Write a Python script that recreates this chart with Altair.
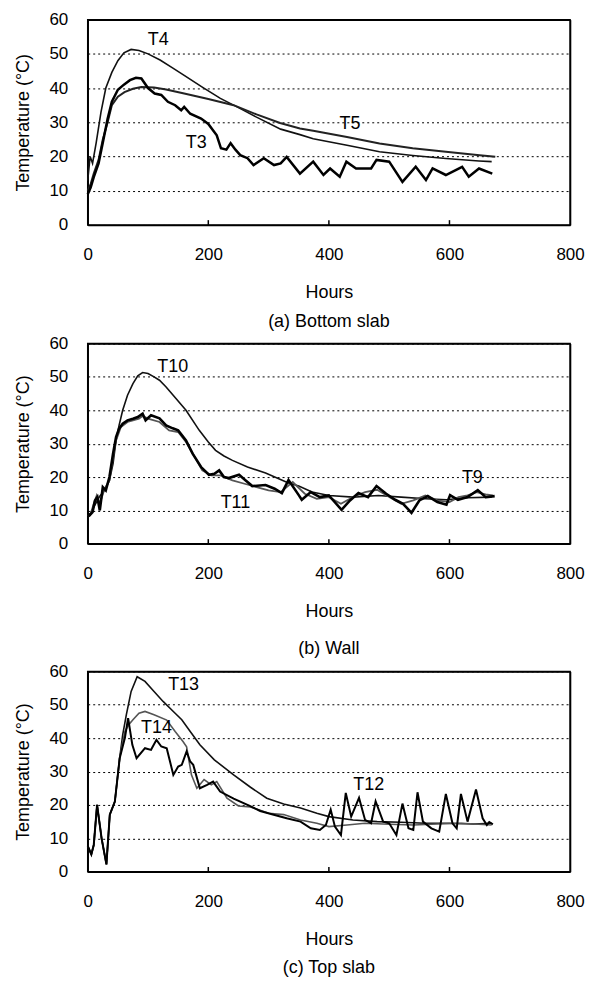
import altair as alt
import pandas as pd

FONT = "Liberation Sans"

x_ticks = [0, 200, 400, 600, 800]
y_ticks = [0, 10, 20, 30, 40, 50, 60]
x_inner_ticks = [200, 400, 600]

# ---------------- (a) Bottom slab ----------------
a_T4_h = [0, 4, 8, 14, 22, 30, 40, 50, 60, 72, 85, 100, 120, 140, 160, 190, 220, 250, 280, 320, 352, 374, 430, 484, 539, 594, 649, 670]
a_T4_t = [13, 20, 18, 24, 33, 40, 44.6, 48, 50.3, 51.3, 51, 50, 48.2, 46, 43.7, 40.3, 37, 34.3, 31.5, 28, 26.4, 25.2, 23.3, 21.4, 20.3, 19.4, 18.7, 18.5]

a_T5_h = [0, 5, 10, 18, 25, 33, 40, 50, 61, 75, 89, 110, 130, 160, 200, 242, 280, 319, 352, 374, 430, 484, 539, 594, 650, 676]
a_T5_t = [10, 12, 15, 19, 25, 30, 35, 37.5, 38.8, 39.8, 40.3, 40.2, 39.6, 38.4, 36.8, 35, 32.3, 29.8, 28.2, 27.5, 25.7, 23.8, 22.4, 21.4, 20.4, 19.9]

a_T3_h = [0, 5, 10, 18, 25, 33, 40, 50, 60, 70, 80, 89, 100, 111, 122, 133, 145, 155, 160, 170, 188, 200, 214, 221, 230, 237, 245, 253, 265, 275, 292, 309, 320,
          330, 352, 374, 391, 402, 418, 429, 445, 470, 479, 500, 522, 544, 561, 572, 594, 621, 632, 649, 671]
a_T3_t = [9, 11, 14, 18, 24, 31, 36, 39.5, 41, 42.3, 43, 42.8, 40, 38.4, 38, 36, 35, 33.5, 34.5, 32.5, 31.1, 29.5, 26.2, 22.4, 22, 23.9, 22, 20.4, 19.5, 17.5, 19.5, 17.5, 18,
          19.9, 15.0, 18.5, 14.6, 16.5, 14.1, 18.5, 16.5, 16.5, 19.0, 18.5, 12.6, 17.0, 13.1, 16.5, 14.6, 17.0, 14.1, 16.5, 15.0]

a_lab_text = ["T4", "T3", "T5"]
a_lab_h = [117, 180, 435]
a_lab_t = [54, 24, 29.6]

# ---------------- (b) Wall ----------------
b_T10_h = [0, 3, 10, 20, 28, 36, 42, 47, 52, 58, 66, 75, 83, 91, 100, 110, 119, 130, 146, 163, 185, 200, 212, 226, 240, 265, 295, 333, 350, 372, 400, 440, 482, 520, 560, 595, 630, 670]
b_T10_t = [9, 8.7, 11, 14.3, 16, 19, 24, 31, 35.5, 40, 44.5, 48, 50.3, 51.3, 51, 50, 49, 47, 43.6, 40, 34, 30.5, 28, 26.3, 25, 23, 21.2, 18.2, 17.3, 15.5, 14.5, 14, 14.5, 14, 13.5, 13.2, 13.8, 14]

b_T11_h = [0, 3, 8, 12, 16, 20, 25, 30, 36, 42, 47, 52, 58, 66, 75, 83, 91, 96, 105, 119, 130, 141, 150, 163, 174, 188, 201, 210, 218, 226, 234, 251, 262, 273, 295, 310, 322, 333,
           350, 355, 370, 385, 400, 421, 435, 449, 465, 479, 495, 510, 523, 537, 550, 564, 580, 595, 601, 614, 630, 647, 660, 675]
b_T11_t = [9, 8.5, 9.5, 13, 14, 10, 17, 16, 20, 27, 32, 34.5, 36, 37, 37.5, 38, 39, 37, 38.5, 37.6, 35.5, 34.6, 34, 31, 27, 23, 20.7, 21, 22, 20, 19.7, 20.7, 19, 17.3, 17.6, 16.5, 15.2, 19.1,
           14.6, 13.2, 15.5, 14, 14.5, 10.2, 13, 15.2, 14, 17.3, 15, 13.2, 12, 9.3, 13, 14.3, 12.5, 11.7, 14.6, 13.2, 14, 16.1, 14, 14.3]

b_T9_h = [0, 5, 10, 15, 20, 28, 36, 42, 47, 55, 66, 75, 85, 91, 100, 119, 135, 150, 163, 176, 190, 205, 220, 240, 260, 280, 300, 320, 340, 360, 380, 400, 420, 440, 460, 480, 500, 520, 540, 560, 580, 600, 615, 630, 645, 660, 672]
b_T9_t = [8.5, 9, 12, 14.5, 12, 16.5, 19, 26, 31, 35, 36.5, 37, 37.5, 38.3, 37.5, 36.5, 34, 33.5, 30.5, 26.5, 22, 20.5, 20.5, 19, 18, 17, 16, 15.5, 18.5, 15, 13.5, 14, 12, 14, 15.5, 16.2, 14, 12, 13, 14.5, 13, 12.5, 14, 14.5, 15.5, 14.8, 14.5]

b_lab_text = ["T10", "T11", "T9"]
b_lab_h = [141, 245, 638]
b_lab_t = [53, 12.2, 19.7]

# ---------------- (c) Top slab ----------------
c_T13_h = [0, 6, 10, 15.5, 20, 23, 31, 36.6, 45, 53, 58, 64, 72, 82, 95, 110, 125, 142, 156, 170, 186, 210, 242, 270, 297, 325, 353, 380, 400, 440, 480, 520, 560, 600, 640, 670]
c_T13_t = [7.7, 5.2, 8, 20, 14, 10, 2.2, 17.1, 21, 34, 41, 47, 54, 58.4, 57, 54, 51, 48, 45.5, 42, 38, 33.5, 29, 25.3, 22, 20.3, 19.1, 17.5, 16.5, 15.5, 15, 14.8, 14.5, 14.5, 14.3, 14.5]

c_T14_h = [0, 6, 10, 15.5, 20, 23, 31, 36.6, 45, 53, 61.6, 68, 75, 85, 95, 110, 131, 145, 158, 164, 172, 181, 193, 205, 214, 231, 250, 270, 300, 325, 353, 380, 400, 430, 460, 500, 540, 580, 620, 670]
c_T14_t = [7.7, 5.2, 8, 20, 14, 10, 2.2, 17.1, 21, 34, 42, 44, 45.5, 47.5, 48, 47, 45.4, 42, 39, 37.4, 29, 25, 27.6, 26, 27, 22, 19.7, 19.4, 17.5, 17.1, 15.5, 14.5, 13.5, 14, 14.5, 14.2, 14, 14.3, 14.5, 14]

c_T12_h = [0, 6, 10, 15.5, 20, 23, 31, 36.6, 45, 53, 61.6, 67, 74, 81, 95, 105, 114, 122, 131, 142, 150, 156, 164, 170, 175, 186, 198, 208, 219.6, 242, 265, 286, 310, 330, 353, 370, 385,
           395, 403, 410, 420, 428, 437, 450, 460, 470, 477.5, 490, 500, 512, 522, 532, 540, 547, 556, 570, 583, 594, 605, 612, 619, 630, 644, 655, 662, 666, 672]
c_T12_t = [7.7, 5.2, 8, 20, 14, 10, 2.2, 17.1, 21, 34, 40, 46, 38, 34, 37, 36.5, 39.5, 37.5, 37, 29, 31.5, 32, 36, 33, 32, 25, 26, 27, 24, 21.9, 20, 18.2, 17, 16, 15, 13, 12.5,
           14, 18.6, 13.5, 11, 23.6, 16.5, 22.1, 15.5, 14.5, 21.1, 15, 14.5, 11, 20.4, 13, 12.5, 23.8, 15, 13, 12, 23.3, 14.5, 13, 23.3, 15, 24.6, 16, 14, 14.9, 14.2]

c_lab_text = ["T13", "T14", "T12"]
c_lab_h = [159, 114, 466]
c_lab_t = [56, 43, 26]

PANEL_W = 484
X_SCALE = alt.Scale(domain=[0, 800], nice=False)
Y_SCALE = alt.Scale(domain=[0, 60], nice=False)


def panel(series, lab_text, lab_h, lab_t, caption, height, cap_offset):
    # main axes (bottom / left), with their domain lines forming two sides of the frame
    x_main = alt.X("Hours:Q", scale=X_SCALE,
                   axis=alt.Axis(values=x_ticks, title="Hours", grid=False, labelPadding=22,
                                 titlePadding=21, ticks=False, domain=True, domainColor="black",
                                 domainWidth=1.5, labelFlush=False))
    y_main = alt.Y("Temp:Q", scale=Y_SCALE,
                   axis=alt.Axis(values=y_ticks, title="Temperature (°C)", grid=True, gridDash=[2, 3],
                                 gridColor="black", gridOpacity=1, labelPadding=20,
                                 titlePadding=17, ticks=False, domain=True, domainColor="black",
                                 domainWidth=1.5, labelFlush=False))
    x_plain = alt.X("Hours:Q", scale=X_SCALE, axis=None)
    y_plain = alt.Y("Temp:Q", scale=Y_SCALE, axis=None)

    layers = []
    for i, (name, hs, ts, col, sw) in enumerate(series):
        df = pd.DataFrame({"Hours": hs, "Temp": ts})
        enc_x = x_main if i == 0 else x_plain
        enc_y = y_main if i == 0 else y_plain
        layers.append(alt.Chart(df).mark_line(color=col, strokeWidth=sw).encode(x=enc_x, y=enc_y))

    # inner ticks, whose layer also carries the top / right axis lines of the frame
    tick_df = pd.DataFrame({"Hours": x_inner_ticks, "Temp": [0, 0, 0], "Top": [1.4, 1.4, 1.4]})
    x_top = alt.X("Hours:Q", scale=X_SCALE,
                  axis=alt.Axis(orient="top", labels=False, ticks=False, title=None, grid=False,
                                domain=True, domainColor="black", domainWidth=1.5))
    y_right = alt.Y("Temp:Q", scale=Y_SCALE,
                    axis=alt.Axis(orient="right", labels=False, ticks=False, title=None, grid=False,
                                  domain=True, domainColor="black", domainWidth=1.5))
    layers.append(alt.Chart(tick_df).mark_rule(color="black", strokeWidth=1.5).encode(
        x=x_top, y=y_right, y2="Top:Q"))

    lab_df = pd.DataFrame({"Hours": lab_h, "Temp": lab_t, "label": lab_text})
    layers.append(alt.Chart(lab_df).mark_text(font=FONT, fontSize=18, color="black").encode(
        x=x_plain, y=y_plain, text="label:N"))

    return alt.layer(*layers).resolve_axis(x="independent", y="independent").properties(
        width=PANEL_W, height=height,
        title=alt.TitleParams(caption, orient="bottom", anchor="middle",
                              font=FONT, fontSize=18, fontWeight="normal", color="black",
                              offset=cap_offset),
    )


pa = panel([("T4", a_T4_h, a_T4_t, "#111111", 1.6),
            ("T5", a_T5_h, a_T5_t, "#222222", 2.0),
            ("T3", a_T3_h, a_T3_t, "#000000", 2.5)],
           a_lab_text, a_lab_h, a_lab_t, "(a) Bottom slab", 206, 11)
pb = panel([("T10", b_T10_h, b_T10_t, "#111111", 1.6),
            ("T9", b_T9_h, b_T9_t, "#555555", 1.8),
            ("T11", b_T11_h, b_T11_t, "#000000", 2.6)],
           b_lab_text, b_lab_h, b_lab_t, "(b) Wall", 201, 20)
pc = panel([("T13", c_T13_h, c_T13_t, "#111111", 1.6),
            ("T14", c_T14_h, c_T14_t, "#555555", 1.6),
            ("T12", c_T12_h, c_T12_t, "#000000", 2.0)],
           c_lab_text, c_lab_h, c_lab_t, "(c) Top slab", 201, 11)

chart = alt.vconcat(pa, pb, pc, spacing=2,
                    padding={"left": 5, "top": 0, "right": 0, "bottom": 5}).configure_view(
    stroke="black", strokeWidth=1.5
).configure_axis(
    labelFont=FONT, titleFont=FONT, labelFontSize=17, titleFontSize=18,
    labelColor="black", titleColor="black", titleFontWeight="normal",
)

chart.save("out.html", embed_options={"renderer": "svg", "actions": False})
